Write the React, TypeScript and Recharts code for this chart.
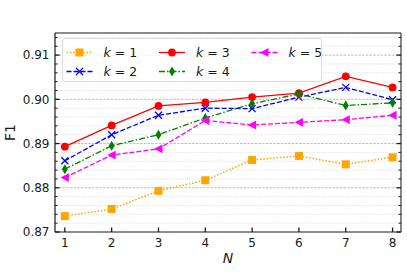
import React from 'react';
import { LineChart, Line, XAxis, YAxis, ReferenceLine, Legend } from 'recharts';

// N values on the x axis
const nValues = [1, 2, 3, 4, 5, 6, 7, 8];

// F1 per k
const k1 = [0.8736, 0.8752, 0.8793, 0.8817, 0.8863, 0.8872, 0.8853, 0.8869];
const k2 = [0.8861, 0.892, 0.8964, 0.898, 0.8979, 0.9005, 0.9027, 0.8999];
const k3 = [0.8893, 0.8941, 0.8985, 0.8993, 0.9005, 0.9014, 0.9052, 0.9027];
const k4 = [0.8842, 0.8895, 0.892, 0.8958, 0.899, 0.9012, 0.8986, 0.8992];
const k5 = [0.8823, 0.8874, 0.8888, 0.8952, 0.8942, 0.8948, 0.8954, 0.8964];

const yMajorTicks = [0.87, 0.88, 0.89, 0.9, 0.91];
const yMinorTicks = [
  0.872, 0.874, 0.876, 0.878, 0.882, 0.884, 0.886, 0.888, 0.892, 0.894, 0.896, 0.898,
  0.902, 0.904, 0.906, 0.908, 0.912, 0.914,
];
const yLabels = ['0.87', '0.88', '0.89', '0.90', '0.91'];

const FONT = '"DejaVu Sans", sans-serif';
const INK = '#1a1a1a';

const data = nValues.map((n, i) => ({ n, k1: k1[i], k2: k2[i], k3: k3[i], k4: k4[i], k5: k5[i] }));

type Shape = 'square' | 'x' | 'circle' | 'diamond' | 'triLeft';

const series: { key: string; label: string; color: string; dash?: string; shape: Shape }[] = [
  { key: 'k1', label: '1', color: '#FFA500', dash: '1.5 1.8', shape: 'square' },
  { key: 'k2', label: '2', color: '#0000FF', dash: '5 2', shape: 'x' },
  { key: 'k3', label: '3', color: '#FF0000', shape: 'circle' },
  { key: 'k4', label: '4', color: '#008000', dash: '6 2 1.5 2', shape: 'diamond' },
  { key: 'k5', label: '5', color: '#FF00FF', dash: '5 2', shape: 'triLeft' },
];

function Marker({ shape, cx, cy, color }: { shape: Shape; cx: number; cy: number; color: string }) {
  switch (shape) {
    case 'square':
      return <rect x={cx - 4} y={cy - 4} width={8} height={8} fill={color} />;
    case 'x':
      return (
        <g stroke={color} strokeWidth={1.3}>
          <line x1={cx - 3.5} y1={cy - 3.5} x2={cx + 3.5} y2={cy + 3.5} />
          <line x1={cx - 3.5} y1={cy + 3.5} x2={cx + 3.5} y2={cy - 3.5} />
        </g>
      );
    case 'circle':
      return <circle cx={cx} cy={cy} r={3.9} fill={color} />;
    case 'diamond':
      return (
        <polygon
          points={`${cx},${cy - 5} ${cx + 3},${cy} ${cx},${cy + 5} ${cx - 3},${cy}`}
          fill={color}
        />
      );
    default:
      return (
        <polygon
          points={`${cx - 4.4},${cy} ${cx + 4},${cy - 4.4} ${cx + 4},${cy + 4.4}`}
          fill={color}
        />
      );
  }
}

const isMajor = (v: number) => yMajorTicks.indexOf(v) >= 0;

const LeftTick = (props: any) => {
  const { x, y, payload } = props;
  const axisX = x + 5;
  const major = isMajor(payload.value);
  return (
    <g>
      <line x1={axisX} x2={axisX + (major ? 4.5 : 2.5)} y1={y} y2={y} stroke={INK} strokeWidth={major ? 1.3 : 1} />
      {major && (
        <text x={x - 0.5} y={y} dy="0.36em" textAnchor="end" fontSize={12} fontFamily={FONT} fill={INK}>
          {yLabels[yMajorTicks.indexOf(payload.value)]}
        </text>
      )}
    </g>
  );
};

const RightTick = (props: any) => {
  const { x, y, payload } = props;
  const major = isMajor(payload.value);
  return (
    <line x1={x} x2={x - (major ? 4.5 : 2.5)} y1={y} y2={y} stroke={INK} strokeWidth={major ? 1.3 : 1} />
  );
};

const BottomTick = (props: any) => {
  const { x, y, payload } = props;
  return (
    <g>
      <line x1={x} x2={x} y1={y} y2={y - 4.5} stroke={INK} strokeWidth={1.3} />
      <text x={x} y={y + 14.8} textAnchor="middle" fontSize={12} fontFamily={FONT} fill={INK}>
        {payload.value}
      </text>
    </g>
  );
};

const renderLegend = () => {
  const colW = 92.5;
  const rowY = [13.5, 32.5];
  return (
    <div
      style={{
        width: 260,
        height: 44,
        border: '1px solid #dcdcdc',
        borderRadius: 3,
        background: 'rgba(255,255,255,0.8)',
        boxSizing: 'border-box',
      }}
    >
      <svg width={258} height={42} style={{ display: 'block' }}>
        {series.map((s, i) => {
          const col = Math.floor(i / 2);
          const row = i % 2;
          const x0 = 3.5 + col * colW;
          const y = rowY[row];
          return (
            <g key={s.key}>
              <line
                x1={x0}
                x2={x0 + 26}
                y1={y}
                y2={y}
                stroke={s.color}
                strokeWidth={1.3}
                strokeDasharray={s.dash}
              />
              <Marker shape={s.shape} cx={x0 + 13} cy={y} color={s.color} />
              <text x={x0 + 37} y={y} dy="0.36em" fontSize={12.5} fontFamily={FONT} fill={INK}>
                <tspan fontStyle="italic">k</tspan>
                <tspan> = {s.label}</tspan>
              </text>
            </g>
          );
        })}
      </svg>
    </div>
  );
};

export default function App() {
  return (
    <div style={{ position: 'absolute', left: 0, top: 0, width: 407, height: 276, background: '#fff' }}>
      <LineChart width={407} height={276} data={data} margin={{ top: 33, right: 0, bottom: 0, left: 0 }}>
        <XAxis
          dataKey="n"
          type="number"
          domain={[0.79, 8.18]}
          ticks={nValues}
          interval={0}
          allowDataOverflow
          height={44}
          tickSize={0}
          tickMargin={0}
          tick={<BottomTick />}
          axisLine={{ stroke: INK, strokeWidth: 1.2 }}
          label={{
            content: (p: any) => {
              const vb = p.viewBox;
              return (
                <text
                  x={vb.x + vb.width / 2}
                  y={vb.y + 30.5}
                  textAnchor="middle"
                  fontSize={14}
                  fontStyle="italic"
                  fontFamily={FONT}
                  fill={INK}
                >
                  N
                </text>
              );
            },
          }}
        />
        <YAxis
          type="number"
          domain={[0.87, 0.915]}
          allowDataOverflow
          ticks={[...yMajorTicks, ...yMinorTicks].sort((a, b) => a - b)}
          interval={0}
          width={55}
          tickSize={0}
          tickMargin={5}
          tick={<LeftTick />}
          axisLine={{ stroke: INK, strokeWidth: 1.2 }}
          label={{
            content: (p: any) => {
              const vb = p.viewBox;
              const cx = vb.x + 14.5;
              const cy = vb.y + vb.height / 2;
              return (
                <text
                  x={cx}
                  y={cy}
                  transform={`rotate(-90 ${cx} ${cy})`}
                  textAnchor="middle"
                  fontSize={14}
                  fontFamily={FONT}
                  fill={INK}
                >
                  F1
                </text>
              );
            },
          }}
        />
        <YAxis
          yAxisId="right"
          orientation="right"
          type="number"
          domain={[0.87, 0.915]}
          allowDataOverflow
          ticks={[...yMajorTicks, ...yMinorTicks].sort((a, b) => a - b)}
          interval={0}
          width={6}
          tickSize={0}
          tickMargin={0}
          tick={<RightTick />}
          axisLine={{ stroke: '#555', strokeWidth: 1.4 }}
        />
        {yMinorTicks.map((v) => (
          <ReferenceLine key={`mn${v}`} y={v} stroke="#d6d6d6" strokeWidth={0.8} strokeDasharray="1 1.2" />
        ))}
        {yMajorTicks.slice(1).map((v) => (
          <ReferenceLine key={`mj${v}`} y={v} stroke="#b4b4b4" strokeWidth={0.9} strokeDasharray="2.5 1.2" />
        ))}
        <ReferenceLine y={0.915} stroke={INK} strokeWidth={1.2} />
        {series.map((s) => (
          <Line
            key={s.key}
            dataKey={s.key}
            stroke={s.color}
            strokeWidth={s.key === 'k1' ? 1.5 : 1.3}
            strokeDasharray={s.dash}
            isAnimationActive={false}
            dot={(p: any) => (
              <Marker key={`${s.key}-${p.index}`} shape={s.shape} cx={p.cx} cy={p.cy} color={s.color} />
            )}
            activeDot={false}
          />
        ))}
        <Legend
          verticalAlign="middle"
          layout="horizontal"
          content={renderLegend}
          wrapperStyle={{ position: 'absolute', left: 62, top: 38, width: 260, height: 44 }}
        />
      </LineChart>
    </div>
  );
}
